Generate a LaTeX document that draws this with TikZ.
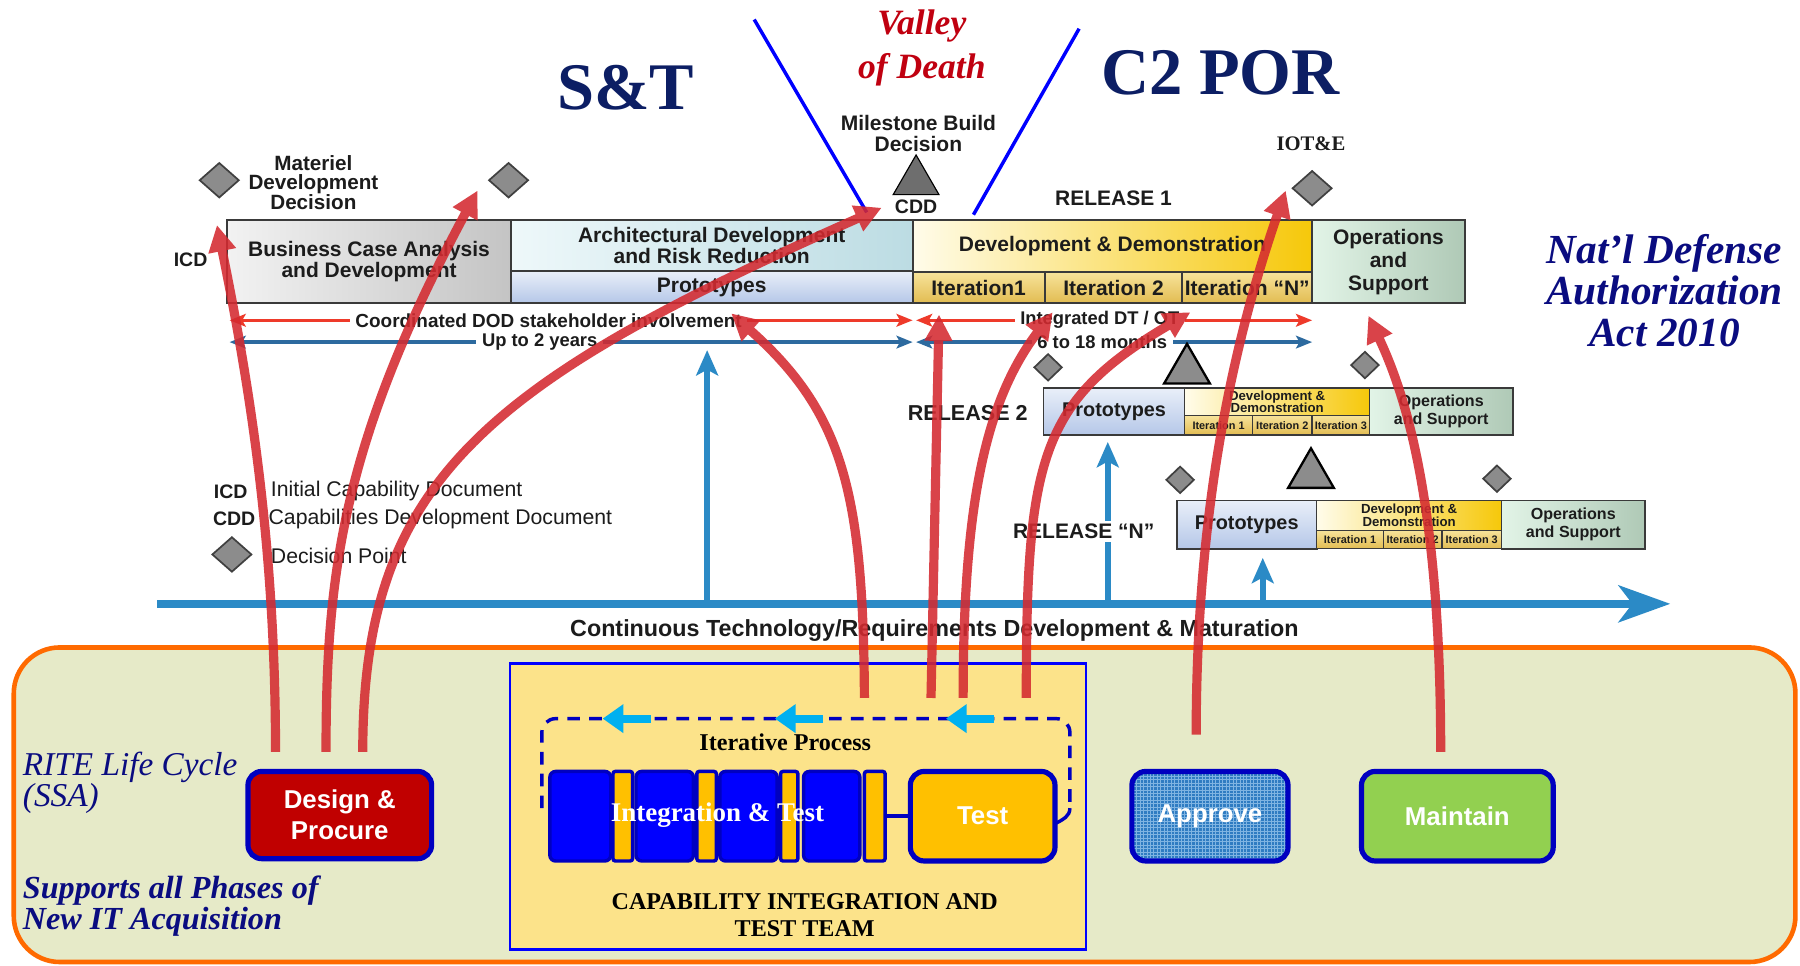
\documentclass[tikz,border=0pt]{standalone}
\usepackage{fontspec}
\setmainfont{Liberation Sans}
\newfontfamily\tnr{Liberation Serif}
\usetikzlibrary{arrows.meta,shapes.geometric,patterns}
\newcommand\fz[2]{\fontsize{#1}{#2}\selectfont}
\definecolor{navy}{HTML}{0C1E64}
\definecolor{navyB}{HTML}{0A0C80}
\definecolor{vred}{HTML}{C00010}
\definecolor{txt}{HTML}{1C1C1C}
\definecolor{barline}{HTML}{3A3A3A}
\definecolor{dgray}{HTML}{8C8C8C}
\definecolor{mgray}{HTML}{6E6E6E}
\definecolor{orng}{HTML}{FF6A00}
\definecolor{panel}{HTML}{E6EAC8}
\definecolor{citt}{HTML}{FCE38A}
\definecolor{cittb}{HTML}{0000FF}
\definecolor{bbord}{HTML}{0000C0}
\definecolor{iblue}{HTML}{0000FF}
\definecolor{gold}{HTML}{FFC000}
\definecolor{dred}{HTML}{C00000}
\definecolor{appblue}{HTML}{2F7CC2}
\definecolor{appgrid}{HTML}{7FB4E2}
\definecolor{mgreen}{HTML}{92D050}
\definecolor{cyan2}{HTML}{00B0F0}
\definecolor{tlblue}{HTML}{2B8AC6}
\definecolor{thinblue}{HTML}{2D6A9F}
\definecolor{thinred}{HTML}{EE3A2A}
\definecolor{arrred}{HTML}{D42A30}
\definecolor{vblue}{HTML}{0000FF}
\definecolor{gA}{HTML}{F2F2F2}\definecolor{gB}{HTML}{C4C4C4}
\definecolor{cA}{HTML}{EEF8FA}\definecolor{cB}{HTML}{BCDCE3}
\definecolor{pA}{HTML}{E9EFF9}\definecolor{pB}{HTML}{B5C7E8}
\definecolor{yA}{HTML}{FFFCEA}\definecolor{yB}{HTML}{F6C80A}
\definecolor{iA}{HTML}{F7E39A}\definecolor{iB}{HTML}{E2BC52}
\definecolor{oA}{HTML}{E2F4E7}\definecolor{oB}{HTML}{AFC9B6}
\tikzset{
  every node/.style={inner sep=0pt, outer sep=0pt},
  lbl/.style={font=\fz{18.3}{17}\bfseries, text=txt, align=center},
  bar/.style={draw=barline, line width=1.6pt, align=center, font=\fz{18.3}{17}\bfseries, text=txt},
  gbox/.style={bar, left color=gA, right color=gB},
  cbox/.style={bar, left color=cA, right color=cB},
  pbox/.style={bar, top color=pA, bottom color=pB},
  ybox/.style={bar, left color=yA, right color=yB},
  itbox/.style={bar, top color=iA, bottom color=iB},
  obox/.style={bar, left color=oA, right color=oB},
  dmdbig/.style={diamond, fill=dgray, draw=black!75, line width=1.5pt, minimum width=34pt, minimum height=30pt},
  dmdsm/.style={diamond, fill=dgray, draw=black!75, line width=1.5pt, minimum width=24pt, minimum height=23pt},
  tri/.style={regular polygon, regular polygon sides=3, minimum size=46pt, fill=dgray, draw=black, line width=2pt},
  rthin/.style={draw=thinred, line width=3pt, {Stealth[length=14pt,width=11pt,inset=3pt]}-{Stealth[length=14pt,width=11pt,inset=3pt]}},
  bthin/.style={draw=thinblue, line width=3pt, {Stealth[length=14pt,width=11pt,inset=3pt]}-{Stealth[length=14pt,width=11pt,inset=3pt]}},
  rowlbl/.style={fill=white, inner xsep=5pt, inner ysep=1pt, font=\fz{16}{16}\bfseries, text=txt},
  tline/.style={draw=tlblue, line width=7pt, -{Stealth[length=45pt,width=32pt,inset=12pt]}},
  tvert/.style={draw=tlblue, line width=5pt, -{Stealth[length=22pt,width=19pt,inset=5pt]}},
  vline/.style={draw=vblue, line width=3pt},
  bbox/.style={draw=bbord, line width=4.5pt, rounded corners=12pt, text=white, font=\fz{22.5}{27}\bfseries, align=center},
  icell/.style={draw=bbord, line width=3pt, rounded corners=5pt, minimum height=78pt, fill=iblue},
  gcell/.style={draw=bbord, line width=3pt, rounded corners=2pt, minimum height=78pt, fill=gold},
  dashloop/.style={draw=bbord, line width=3pt, dash pattern=on 11pt off 8pt},
  cyarr/.style={draw=cyan2, line width=7pt, -{Triangle[length=18pt,width=24pt]}},
  redarr/.style={draw=arrred, line width=8pt, -{Triangle[length=23pt,width=23pt]}},
}
\begin{document}
\begin{tikzpicture}[x=1pt,y=-1pt]
\useasboundingbox (0,0) rectangle (1568,841);
\fill[white] (0,0) rectangle (1568,841);

% ---------- bottom panel
\node[draw=orng, line width=4pt, fill=panel, rounded corners=40pt, minimum width=1552pt, minimum height=274pt] (panel) at (788,701) {};

% ---------- titles
\node[font=\tnr\bfseries\fz{58}{58}, text=navy] (st) at (545,76) {S\&T};
\node[font=\tnr\bfseries\fz{58}{58}, text=navy] (c2) at (1063,63) {C2 POR};
\node[font=\tnr\bfseries\itshape\fz{31}{38}, text=vred, align=center] (vod) at (803,42) {Valley\\of Death};
\node[font=\tnr\bfseries\itshape\fz{36}{36}, text=navyB, align=center] (ndaa) at (1450,253) {Nat’l Defense\\Authorization\\Act 2010};

\coordinate (bl1a) at (657,17); \coordinate (bl1b) at (755,185);
\coordinate (bl2a) at (940,25); \coordinate (bl2b) at (848,187);
\draw[vline] (bl1a) -- (bl1b);
\draw[vline] (bl2a) -- (bl2b);

% ---------- timeline (drawn early so labels can mask it)
\coordinate (tl0) at (137,526); \coordinate (tl1) at (1455,526);
\coordinate (v1t) at (616,305); \coordinate (v2t) at (965,385); \coordinate (v3t) at (1100,486);
\draw[tline] (tl0) -- (tl1);
\draw[tvert] (v1t |- tl0) -- (v1t);
\draw[tvert] (v2t |- tl0) -- (v2t);
\draw[tvert] (v3t |- tl0) -- (v3t);
\node[lbl, font=\fz{20.3}{20}\bfseries] (ctr) at (814,549) {Continuous Technology/Requirements Development \& Maturation};

% ---------- milestone / decision markers
\node[lbl, font=\fz{18.3}{18}\bfseries] (msb) at (800,116) {Milestone Build\\Decision};
\node[tri, fill=mgray, line width=1pt] (mtri) at (798,158) {};
\node[lbl, font=\fz{17}{17}\bfseries] (cdd) at (798,180) {CDD};
\node[lbl, font=\fz{18}{17}\bfseries] (mdd) at (273,159) {Materiel\\Development\\Decision};
\node[dmdbig] (d1) at (191,157) {};
\node[dmdbig] (d2) at (443,157) {};
\node[lbl, font=\fz{17}{17}\bfseries] (icd) at (166,226) {ICD};
\node[lbl] (rel1) at (970,173) {RELEASE 1};
\node[font=\tnr\bfseries\fz{18}{18}, text=txt] (iote) at (1142,125) {IOT\&E};
\node[dmdbig] (d3) at (1143,164) {};

% ---------- release 1 bar
\node[gbox, minimum width=247pt, minimum height=72pt] (bca) at (321.5,228) {Business Case Analysis\\and Development};
\node[cbox, minimum width=350pt, minimum height=44pt] (adr) at (620,214) {Architectural Development\\and Risk Reduction};
\node[pbox, minimum width=350pt, minimum height=28pt] (pr1) at (620,250) {Prototypes};
\node[ybox, minimum width=348pt, minimum height=45pt] (dd1) at (969,214.5) {Development \& Demonstration};
\node[itbox, minimum width=115pt, minimum height=27pt] (it11) at (852.5,250.5) {Iteration1};
\node[itbox, minimum width=120pt, minimum height=27pt] (it12) at (970,250.5) {Iteration 2};
\node[itbox, minimum width=113pt, minimum height=27pt] (it1n) at (1086.5,250.5) {Iteration “N”};
\node[obox, minimum width=133pt, minimum height=72pt, font=\fz{18.3}{20}\bfseries] (os1) at (1209.5,228) {Operations\\and\\Support};

% ---------- duration rows
\coordinate (ra1) at (200,279); \coordinate (ra2) at (795,279);
\coordinate (ra3) at (798,279); \coordinate (ra4) at (1143,279);
\coordinate (ba1) at (200,298); \coordinate (ba2) at (795,298);
\coordinate (ba3) at (798,298); \coordinate (ba4) at (1143,298);
\draw[rthin] (ra1) -- node[rowlbl, pos=0.467, font=\fz{16.5}{16}\bfseries] (cds) {Coordinated DOD stakeholder involvement} (ra2);
\draw[rthin] (ra3) -- node[rowlbl, pos=0.464] (idt) {Integrated DT / OT} (ra4);
\draw[bthin] (ba1) -- node[rowlbl, pos=0.454] (u2y) {Up to 2 years} (ba2);
\draw[bthin] (ba3) -- node[rowlbl, pos=0.47] (m18) {6 to 18 months} (ba4);

% ---------- release 2
\node[lbl, fill=white, inner sep=2pt, font=\fz{18.8}{18}\bfseries] (rel2) at (843,360) {RELEASE 2};
\node[dmdsm] (d4) at (913,320) {};
\node[dmdsm] (d5) at (1189,318) {};
\node[tri] (t2) at (1034,322.5) {};
\node[pbox, minimum width=123pt, minimum height=41pt, font=\fz{17.3}{16}\bfseries] (pr2) at (970.5,358.5) {Prototypes};
\node[ybox, minimum width=161pt, minimum height=24pt, font=\fz{11.5}{11}\bfseries, line width=1.3pt] (dd2) at (1112.5,350) {Development \&\\Demonstration};
\node[itbox, minimum width=59pt, minimum height=17pt, font=\fz{9.5}{10}\bfseries, line width=1.3pt] (it21) at (1061.5,370.5) {Iteration 1};
\node[itbox, minimum width=52pt, minimum height=17pt, font=\fz{9.5}{10}\bfseries, line width=1.3pt] (it22) at (1117,370.5) {Iteration 2};
\node[itbox, minimum width=50pt, minimum height=17pt, font=\fz{9.5}{10}\bfseries, line width=1.3pt] (it23) at (1168,370.5) {Iteration 3};
\node[obox, minimum width=125pt, minimum height=41pt, font=\fz{14}{16}\bfseries] (os2) at (1255.5,358.5) {Operations\\and Support};

% ---------- release N
\node[lbl, fill=white, inner sep=3pt] (reln) at (944,463) {RELEASE “N”};
\node[dmdsm] (d6) at (1028,418) {};
\node[dmdsm] (d7) at (1304,417) {};
\node[tri] (t3) at (1142,413.5) {};
\node[pbox, minimum width=122pt, minimum height=42pt, font=\fz{17.3}{16}\bfseries] (prn) at (1086,457) {Prototypes};
\node[ybox, minimum width=161pt, minimum height=26pt, font=\fz{11.5}{11}\bfseries, line width=1.3pt] (ddn) at (1227.5,449) {Development \&\\Demonstration};
\node[itbox, minimum width=58pt, minimum height=16pt, font=\fz{9.5}{10}\bfseries, line width=1.3pt] (itn1) at (1176,470) {Iteration 1};
\node[itbox, minimum width=51pt, minimum height=16pt, font=\fz{9.5}{10}\bfseries, line width=1.3pt] (itn2) at (1230.5,470) {Iteration 2};
\node[itbox, minimum width=52pt, minimum height=16pt, font=\fz{9.5}{10}\bfseries, line width=1.3pt] (itn3) at (1282,470) {Iteration 3};
\node[obox, minimum width=125pt, minimum height=42pt, font=\fz{14}{16}\bfseries] (osn) at (1370.5,457) {Operations\\and Support};

% ---------- legend
\node[lbl, font=\fz{17}{17}\bfseries] (lg1) at (201,428) {ICD};
\node[lbl, anchor=west, font=\fz{18.5}{17}] (lg1t) at (236,428) {Initial Capability Document};
\node[lbl, font=\fz{17}{17}\bfseries] (lg2) at (204,452) {CDD};
\node[lbl, anchor=west, font=\fz{18.5}{17}] (lg2t) at (234,452) {Capabilities Development Document};
\node[dmdbig] (lg3) at (202,483) {};
\node[lbl, anchor=west, font=\fz{18.5}{17}] (lg3t) at (236,484) {Decision Point};

% ---------- bottom panel contents
\node[font=\tnr\itshape\fz{29}{27}, text=navyB, anchor=west, align=left] (rite) at (20,682) {RITE Life Cycle\\(SSA)};
\node[font=\tnr\bfseries\itshape\fz{28}{27}, text=navyB, anchor=west, align=left] (sup) at (20,789) {Supports all Phases of\\New IT Acquisition};

\node[draw=cittb, line width=2pt, fill=citt, minimum width=502pt, minimum height=249pt] (cittbox) at (695,702.5) {};
\node[font=\tnr\bfseries\fz{21}{24}, text=black, align=center] (cittl) at (701,797) {CAPABILITY INTEGRATION AND\\TEST TEAM};

\coordinate (dlA) at (472,704); \coordinate (dlB) at (932,626);
\coordinate (dlC) at (932,704); \coordinate (dlD) at (920,717);
\draw[dashloop, rounded corners=12pt] (dlA) |- (dlB) -- (dlC);
\draw[draw=bbord, line width=3pt] (dlC) .. controls (932,711) and (926,714) .. (dlD);

\coordinate (ca1s) at (567,626); \coordinate (ca1e) at (525,626);
\coordinate (ca2s) at (717,626); \coordinate (ca2e) at (675,626);
\coordinate (ca3s) at (866,626); \coordinate (ca3e) at (824,626);
\draw[cyarr] (ca1s) -- (ca1e);
\draw[cyarr] (ca2s) -- (ca2e);
\draw[cyarr] (ca3s) -- (ca3e);
\node[font=\tnr\bfseries\fz{21}{21}, text=black] (itp) at (684,647) {Iterative Process};

\node[icell, minimum width=53pt] (ib1) at (505.5,711) {};
\node[gcell, minimum width=17pt] (ig1) at (542.5,711) {};
\node[icell, minimum width=50pt] (ib2) at (579,711) {};
\node[gcell, minimum width=17pt] (ig2) at (615.5,711) {};
\node[icell, minimum width=50pt] (ib3) at (652,711) {};
\node[gcell, minimum width=15pt] (ig3) at (687.5,711) {};
\node[icell, minimum width=49pt] (ib4) at (724.5,711) {};
\node[gcell, minimum width=18pt] (ig4) at (762,711) {};
\node[font=\tnr\bfseries\fz{23.5}{23}, text=white] (itx) at (625,710) {Integration \& Test};

\node[bbox, fill=gold, minimum width=126pt, minimum height=78pt] (tst) at (856,711) {Test};
\draw[draw=bbord, line width=3pt] (ig4.east) -- (tst.west);

\node[bbox, fill=dred, minimum width=160pt, minimum height=76pt] (dp) at (296,710) {Design \&\\Procure};
\node[bbox, preaction={fill=appblue}, pattern=grid, pattern color=appgrid, minimum width=136pt, minimum height=78pt] (apv) at (1054,711) {Approve};
\node[bbox, fill=mgreen, minimum width=167pt, minimum height=78pt] (mnt) at (1269.5,711) {Maintain};

% ---------- red arrows
\coordinate (a1s) at (240,655); \coordinate (a1e) at (189,196);
\coordinate (a2s) at (284,655); \coordinate (a2e) at (416,166);
\coordinate (a3s) at (316,655); \coordinate (a3e) at (768,181);
\coordinate (a4s) at (753,608); \coordinate (a4e) at (637,273);
\coordinate (a5s) at (811,608); \coordinate (a5e) at (818,274);
\coordinate (a6s) at (839,608); \coordinate (a6e) at (917,272);
\coordinate (a7s) at (894,608); \coordinate (a7e) at (1037,272);
\coordinate (a8s) at (1042,640); \coordinate (a8e) at (1120,166);
\coordinate (a9s) at (1255,655); \coordinate (a9e) at (1192,275);
\begin{scope}[transparency group, opacity=0.88]
\draw[redarr] (a1s) .. controls (240,480) and (219,343) .. (a1e);
\draw[redarr] (a2s) .. controls (284,500) and (298,386) .. (a2e);
\draw[redarr] (a3s) .. controls (316,420) and (420,335) .. (a3e);
\draw[redarr] (a4s) .. controls (752,430) and (735,360) .. (a4e);
\draw[redarr] (a5s) -- (a5e);
\draw[redarr] (a6s) .. controls (839,440) and (858,350) .. (a6e);
\draw[redarr] (a7s) .. controls (894,400) and (905,350) .. (a7e);
\draw[redarr] (a8s) .. controls (1042,450) and (1072,305) .. (a8e);
\draw[redarr] (a9s) .. controls (1255,440) and (1225,345) .. (a9e);
\end{scope}
\end{tikzpicture}
\end{document}
